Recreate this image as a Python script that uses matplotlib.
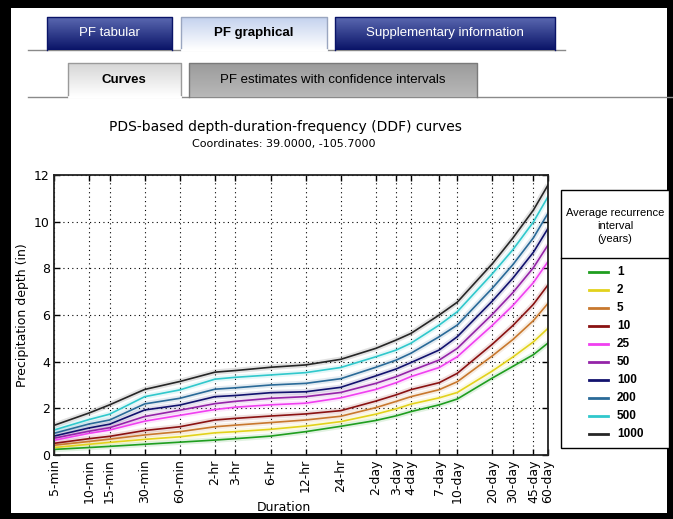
import matplotlib.pyplot as plt
import numpy as np
from matplotlib.colors import LinearSegmentedColormap
from matplotlib.patches import Rectangle

# durations in minutes and their tick labels
durations = [5, 10, 15, 30, 60, 120, 180, 360, 720, 1440, 2880, 4320, 5760,
             10080, 14400, 28800, 43200, 64800, 86400]
dur_labels = ['5-min', '10-min', '15-min', '30-min', '60-min', '2-hr', '3-hr',
              '6-hr', '12-hr', '24-hr', '2-day', '3-day', '4-day', '7-day',
              '10-day', '20-day', '30-day', '45-day', '60-day']

ari = ['1', '2', '5', '10', '25', '50', '100', '200', '500', '1000']
colors = ['#1f9e1f', '#e2d21c', '#c8782e', '#8a1212', '#f040f0', '#9424a8',
          '#12126e', '#2a6a98', '#30c8cc', '#262626']

# precipitation depth (in), one list per recurrence interval
d1 = [0.24, 0.32, 0.37, 0.46, 0.55, 0.64, 0.70, 0.81, 1.00, 1.23, 1.48, 1.68, 1.86, 2.15, 2.40, 3.30, 3.80, 4.30, 4.80]
d2 = [0.32, 0.46, 0.54, 0.67, 0.78, 0.95, 1.00, 1.10, 1.24, 1.43, 1.75, 1.98, 2.18, 2.45, 2.68, 3.60, 4.20, 4.85, 5.43]
d5 = [0.42, 0.58, 0.68, 0.86, 1.00, 1.21, 1.28, 1.39, 1.50, 1.66, 2.03, 2.30, 2.50, 2.80, 3.14, 4.25, 4.95, 5.76, 6.50]
d10 = [0.50, 0.70, 0.80, 1.05, 1.21, 1.50, 1.57, 1.67, 1.76, 1.90, 2.31, 2.58, 2.80, 3.10, 3.50, 4.75, 5.55, 6.46, 7.29]
d25 = [0.63, 0.93, 1.07, 1.45, 1.70, 1.95, 2.05, 2.15, 2.22, 2.45, 2.81, 3.10, 3.36, 3.75, 4.21, 5.56, 6.41, 7.39, 8.29]
d50 = [0.72, 1.02, 1.17, 1.65, 1.92, 2.20, 2.30, 2.43, 2.50, 2.68, 3.07, 3.36, 3.61, 4.07, 4.57, 6.03, 6.96, 8.03, 9.00]
d100 = [0.81, 1.16, 1.32, 1.93, 2.14, 2.50, 2.55, 2.67, 2.71, 2.90, 3.39, 3.69, 3.96, 4.50, 5.07, 6.60, 7.58, 8.69, 9.71]
d200 = [0.93, 1.33, 1.50, 2.19, 2.43, 2.82, 2.88, 3.00, 3.07, 3.27, 3.76, 4.07, 4.36, 5.07, 5.57, 7.15, 8.16, 9.31, 10.36]
d500 = [1.07, 1.52, 1.75, 2.50, 2.79, 3.25, 3.33, 3.43, 3.53, 3.75, 4.21, 4.50, 4.79, 5.57, 6.14, 7.77, 8.80, 9.99, 11.07]
d1000 = [1.27, 1.80, 2.15, 2.81, 3.15, 3.55, 3.62, 3.76, 3.86, 4.10, 4.57, 4.93, 5.21, 6.00, 6.55, 8.20, 9.30, 10.50, 11.57]
depths = [d1, d2, d5, d10, d25, d50, d100, d200, d500, d1000]

W, H = 673, 519
fig = plt.figure(figsize=(W / 100, H / 100), dpi=100)
fig.patch.set_facecolor('black')

# page decorations drawn in pixel coordinates
bg = fig.add_axes([0, 0, 1, 1], zorder=0)
bg.set_xlim(0, W)
bg.set_ylim(H, 0)
bg.axis('off')
bg.add_patch(Rectangle((11, 8), 656, 505, facecolor='white', edgecolor='none'))

tabfont = ['Liberation Sans Narrow', 'Liberation Sans', 'DejaVu Sans']


def tab(x0, x1, y0, y1, top, bottom, edge):
    cmap = LinearSegmentedColormap.from_list('t', [top, bottom])
    grad = np.linspace(0, 1, 50).reshape(-1, 1)
    bg.imshow(grad, cmap=cmap, extent=(x0, x1, y1, y0), origin='upper',
              aspect='auto', zorder=1)
    bg.plot([x0, x0, x1, x1], [y1, y0, y0, y1], color=edge, lw=1, zorder=2)


# first row of tabs
bg.plot([28, 565], [50, 50], color='#8a8a8a', lw=1, zorder=1)
tab(47, 172, 17, 50, '#5a68b0', '#0a1468', '#0a1468')
tab(181, 327, 17, 50, '#c4d2ee', '#ffffff', '#9aa6c0')
bg.plot([182, 326], [50, 50], color='white', lw=2, zorder=3)
tab(335, 555, 17, 50, '#5a68b0', '#0a1468', '#0a1468')
bg.text(109, 33, 'PF tabular', color='white', fontsize=9.5, ha='center', va='center', family=tabfont)
bg.text(254, 33, 'PF graphical', color='black', fontsize=9.5, weight='bold', ha='center', va='center', family=tabfont)
bg.text(445, 33, 'Supplementary information', color='white', fontsize=9.5, ha='center', va='center', family=tabfont)

# second row of tabs
bg.plot([28, 673], [97, 97], color='#8a8a8a', lw=1, zorder=1)
tab(68, 181, 63, 97, '#d6d6d6', '#ffffff', '#9a9a9a')
bg.plot([69, 180], [97, 97], color='white', lw=2, zorder=3)
tab(189, 477, 63, 97, '#9c9c9c', '#b8b8b8', '#7a7a7a')
bg.text(124, 80, 'Curves', color='black', fontsize=9.5, weight='bold', ha='center', va='center', family=tabfont)
bg.text(333, 80, 'PF estimates with confidence intervals', color='black', fontsize=9.5, ha='center', va='center', family=tabfont)

# titles
bg.text(285, 127, 'PDS-based depth-duration-frequency (DDF) curves', fontsize=10, ha='center', va='center')
bg.text(284, 144, 'Coordinates: 39.0000, -105.7000', fontsize=8, ha='center', va='center')

# main chart
ax = fig.add_axes([54 / W, 1 - 455 / H, 494 / W, 280 / H], zorder=2)
for vals, c in zip(depths, colors):
    ax.plot(durations, vals, color=c, lw=4, alpha=0.13, solid_capstyle='butt')
for vals, c, lab in zip(depths, colors, ari):
    ax.plot(durations, vals, color=c, lw=1.2, label=lab)

ax.set_xscale('log')
ax.set_xlim(5, 86400)
ax.set_ylim(0, 12)
ax.set_xticks(durations)
ax.set_xticklabels(dur_labels, rotation=90, fontsize=9)
ax.xaxis.set_minor_locator(plt.NullLocator())
ax.set_yticks(range(0, 13, 2))
ax.tick_params(axis='y', labelsize=9)
ax.tick_params(direction='in', top=True, right=True, length=4, width=1, pad=3)
ax.grid(True, color='black', linestyle=(0, (1, 3)), lw=0.8)
for s in ax.spines.values():
    s.set_linewidth(1.3)
    s.set_color('#222222')
ax.set_xlabel('Duration', fontsize=9)
ax.xaxis.set_label_coords(0.466, -0.165)
ax.set_ylabel('Precipitation depth (in)', fontsize=9)
ax.yaxis.set_label_coords(-0.05, 0.5)

# legend box
lgfont = ['Liberation Sans', 'DejaVu Sans']
bg.add_patch(Rectangle((561, 190), 108, 258, facecolor='white', edgecolor='black', lw=1, zorder=4))
bg.plot([561, 669], [258, 258], color='black', lw=1, zorder=5)
bg.text(615, 226, 'Average recurrence\ninterval\n(years)', fontsize=8, ha='center', va='center',
        linespacing=1.35, family=lgfont, zorder=5)
for i, (c, lab) in enumerate(zip(colors, ari)):
    y = 272 + i * 18
    bg.plot([589, 608], [y, y], color=c, lw=2, zorder=5)
    bg.text(617, y, lab, fontsize=8.5, weight='bold', ha='left', va='center', family=lgfont, zorder=5)

fig.savefig('out.png', dpi=100, facecolor=fig.get_facecolor())
